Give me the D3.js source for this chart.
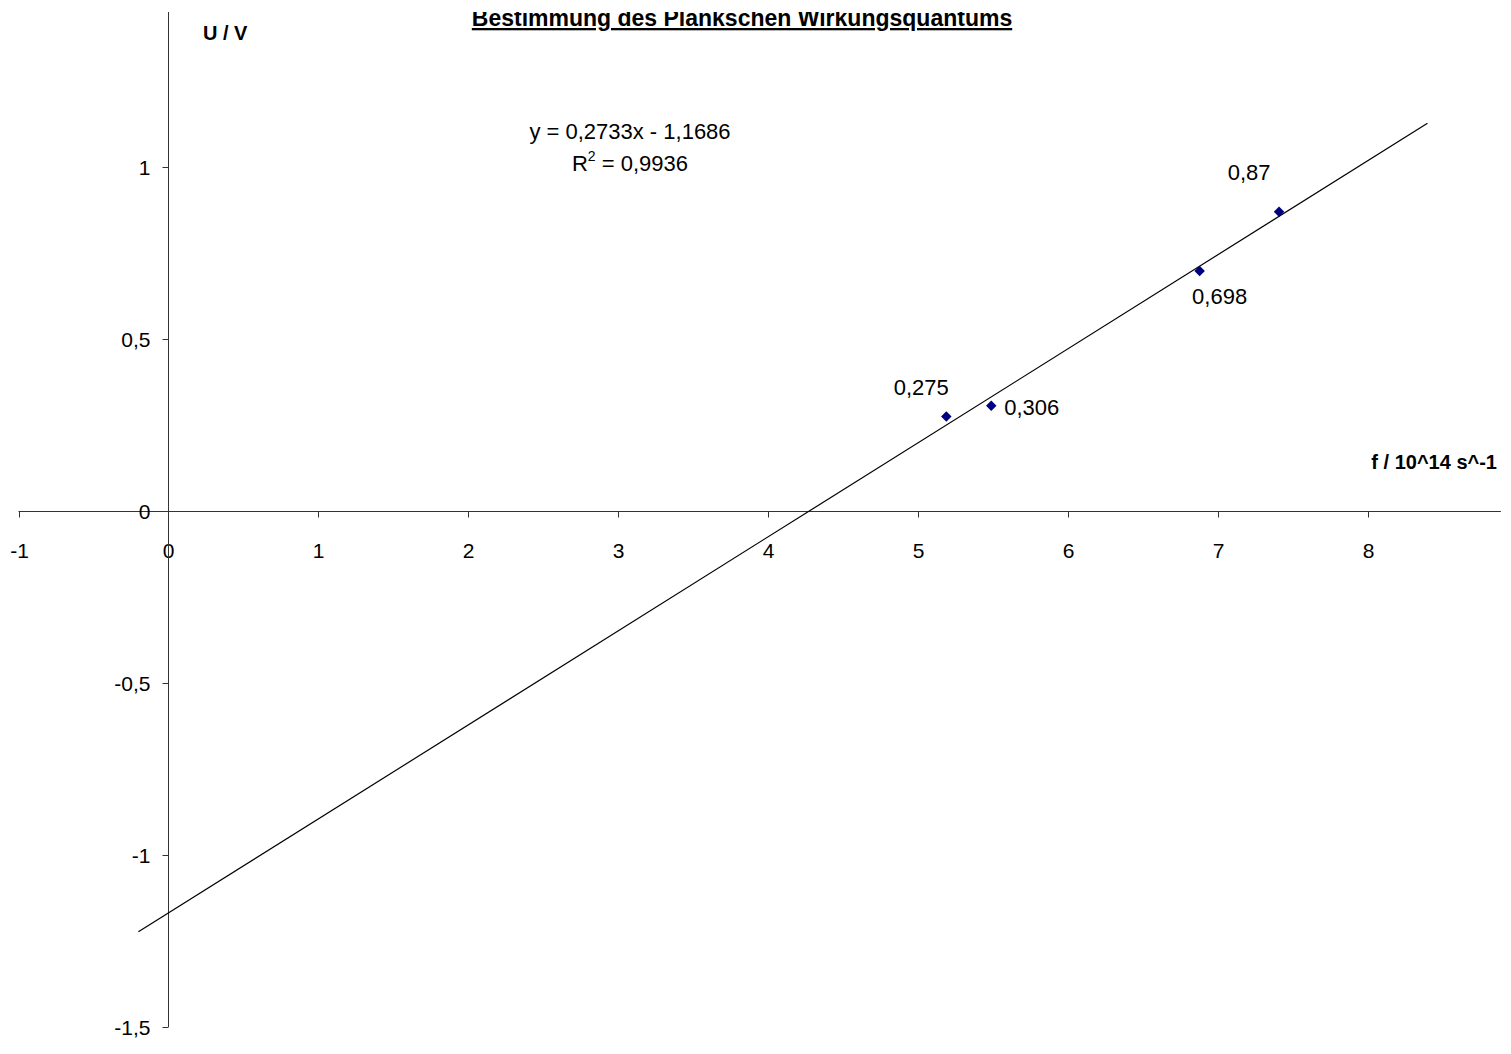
<!DOCTYPE html>
<html lang="de">
<head>
<meta charset="UTF-8">
<title>Bestimmung des Plankschen Wirkungsquantums</title>
<script src="https://d3js.org/d3.v7.min.js"></script>
<style>
  body { margin: 0; background: #fff; }
  text { font-family: Arial, "Liberation Sans", sans-serif; }
</style>
</head>
<body>
<div id="chart"></div>
<script>
// measured values
const freq = [5.19, 5.49, 6.88, 7.41];       // f / 10^14 s^-1
const voltage = [0.275, 0.306, 0.698, 0.87]; // U / V
const pointLabels = ["0,275", "0,306", "0,698", "0,87"];
const xTicks = [-1, 0, 1, 2, 3, 4, 5, 6, 7, 8];
const yTicks = [-1.5, -1, -0.5, 0, 0.5, 1];
const trendCoef = [0.2733, -1.1686]; // slope, intercept
const trendRange = [-0.2, 8.4];

const width = 1511, height = 1054;
const fmt = d => String(d).replace(".", ",");

const x = d3.scaleLinear().domain([-1, 8]).range([18.5, 1367.5]);
const y = d3.scaleLinear().domain([-1.5, 1]).range([1027, 167]);

const svg = d3.select("#chart").append("svg")
    .attr("width", width)
    .attr("height", height);

svg.append("defs").append("clipPath").attr("id", "topclip")
  .append("rect").attr("x", 0).attr("y", 12).attr("width", width).attr("height", height);

// x axis (crosses at y = 0)
const xAxis = svg.append("g")
    .attr("transform", `translate(0,${Math.round(y(0)) + 0.5})`);
xAxis.append("line")
    .attr("x1", x(-1)).attr("x2", x(8.89))
    .attr("stroke", "#333").attr("stroke-width", 1);
xAxis.selectAll(".tick").data(xTicks).enter().append("g")
    .attr("transform", d => `translate(${Math.round(x(d)) + 0.5},0)`)
    .call(g => g.append("line").attr("y2", 6).attr("stroke", "#333"))
    .call(g => g.append("text")
        .attr("y", 46).attr("text-anchor", "middle")
        .attr("font-size", 21).text(d => fmt(d)));

// y axis (crosses at x = 0)
const yAxis = svg.append("g")
    .attr("transform", `translate(${Math.round(x(0)) + 0.5},0)`);
yAxis.append("line")
    .attr("y1", 12).attr("y2", y(-1.5))
    .attr("stroke", "#333").attr("stroke-width", 1);
yAxis.selectAll(".tick").data(yTicks).enter().append("g")
    .attr("transform", d => `translate(0,${Math.round(y(d)) + 0.5})`)
    .call(g => g.append("line").attr("x2", -6).attr("stroke", "#333"))
    .call(g => g.append("text")
        .attr("x", -18).attr("dy", "0.35em").attr("text-anchor", "end")
        .attr("font-size", 21).text(d => fmt(d)));

// trend line
const line = d3.line().x(d => x(d)).y(d => y(trendCoef[0] * d + trendCoef[1]));
svg.append("path")
    .datum(trendRange)
    .attr("d", line)
    .attr("fill", "none")
    .attr("stroke", "#000")
    .attr("stroke-width", 1.2);

// data points
const pts = freq.map((f, i) => ({ f, u: voltage[i], label: pointLabels[i] }));
svg.append("g").selectAll("path").data(pts).enter().append("path")
    .attr("transform", d => `translate(${x(d.f)},${y(d.u)})`)
    .attr("d", d3.symbol(d3.symbolDiamond2, 70))
    .attr("fill", "#000080");

// point labels (anchor relative to point)
const labelOffset = [[-25, -21, "middle"], [13, 9, "start"], [20, 33, "middle"], [-30, -32, "middle"]];
svg.append("g").selectAll("text").data(pts).enter().append("text")
    .attr("x", (d, i) => x(d.f) + labelOffset[i][0])
    .attr("y", (d, i) => y(d.u) + labelOffset[i][1])
    .attr("text-anchor", (d, i) => labelOffset[i][2])
    .attr("font-size", 22)
    .text(d => d.label);

// regression text
const eq = svg.append("g").attr("font-size", 22).attr("text-anchor", "middle");
eq.append("text").attr("x", 630).attr("y", 139)
    .text(`y = ${fmt(trendCoef[0])}x - ${fmt(-trendCoef[1])}`);
const r2 = eq.append("text").attr("x", 630).attr("y", 171);
r2.append("tspan").text("R");
r2.append("tspan").attr("font-size", 14).attr("dy", -10).text("2");
r2.append("tspan").attr("dy", 10).text(" = 0,9936");

// axis titles
svg.append("text").attr("x", 203).attr("y", 40)
    .attr("font-size", 20).attr("font-weight", "bold").text("U / V");
svg.append("text").attr("x", 1497).attr("y", 469)
    .attr("text-anchor", "end")
    .attr("font-size", 20).attr("font-weight", "bold").text("f / 10^14 s^-1");

// title (top edge clipped as in the original)
svg.append("text")
    .attr("clip-path", "url(#topclip)")
    .attr("x", 742).attr("y", 26)
    .attr("text-anchor", "middle")
    .attr("font-size", 23).attr("font-weight", "bold")
    .attr("text-decoration", "underline")
    .text("Bestimmung des Plankschen Wirkungsquantums");
</script>
</body>
</html>
